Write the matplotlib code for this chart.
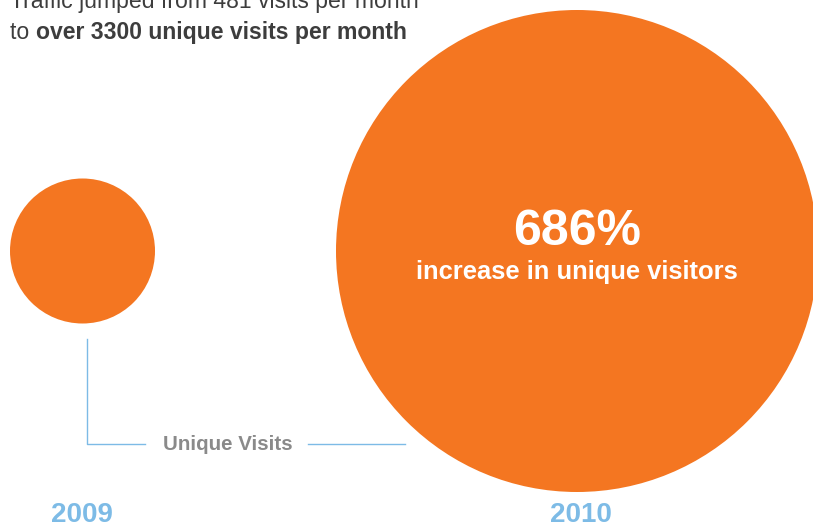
import matplotlib.pyplot as plt
from matplotlib.patches import Circle

plt.rcParams['font.family'] = ['Liberation Sans', 'DejaVu Sans']

# data
years = ['2009', '2010']
visits = [481, 3300]
increase_pct = round(visits[1] / visits[0] * 100)  # shown as 686% on the chart

# layout (pixels, y downwards)
centers_x = [82.5, 577]
center_y = 251
radii = [72.5, 241]
orange = '#f47621'
blue = '#7dbbe6'
dark = '#3d3d3d'
grey = '#8a8a8a'

fig = plt.figure(figsize=(8.13, 5.25), dpi=100)
ax = fig.add_axes([0, 0, 1, 1])
ax.set_xlim(0, 813)
ax.set_ylim(525, 0)
ax.set_aspect('equal')
ax.axis('off')

for cx, r in zip(centers_x, radii):
    ax.add_patch(Circle((cx, center_y), r, color=orange, lw=0))

# headline text (first line is cut by the top edge, as in the original)
ax.text(10, 8, f'Traffic jumped from {visits[0]} visits per month', fontsize=16.6,
        color=dark, va='baseline', ha='left')
t1 = ax.text(10, 39, 'to ', fontsize=16.6, color=dark, va='baseline', ha='left')
fig.canvas.draw()
bb = t1.get_window_extent().transformed(ax.transData.inverted())
ax.text(bb.x1, 39, f'over {visits[1] // 100 * 100} unique visits per month', fontsize=16.6,
        color=dark, fontweight='bold', va='baseline', ha='left')

# big circle labels
ax.text(centers_x[1], 245, f'{increase_pct}%', fontsize=36, color='white',
        fontweight='bold', ha='center', va='baseline')
ax.text(centers_x[1], 279, 'increase in unique visitors', fontsize=18.4, color='white',
        fontweight='bold', ha='center', va='baseline')

# connector lines
ax.plot([87, 87, 145], [339, 444, 444], color=blue, lw=1)
ax.plot([308, 405], [444, 444], color=blue, lw=1)
ax.text(227.5, 444, 'Unique Visits', fontsize=14.8, color=grey, fontweight='bold',
        ha='center', va='center')

# years
for cx, yr in zip([82, 581], years):
    ax.text(cx, 521.5, yr, fontsize=20, color=blue, fontweight='bold',
            ha='center', va='baseline')

fig.savefig('out.png', dpi=100)
